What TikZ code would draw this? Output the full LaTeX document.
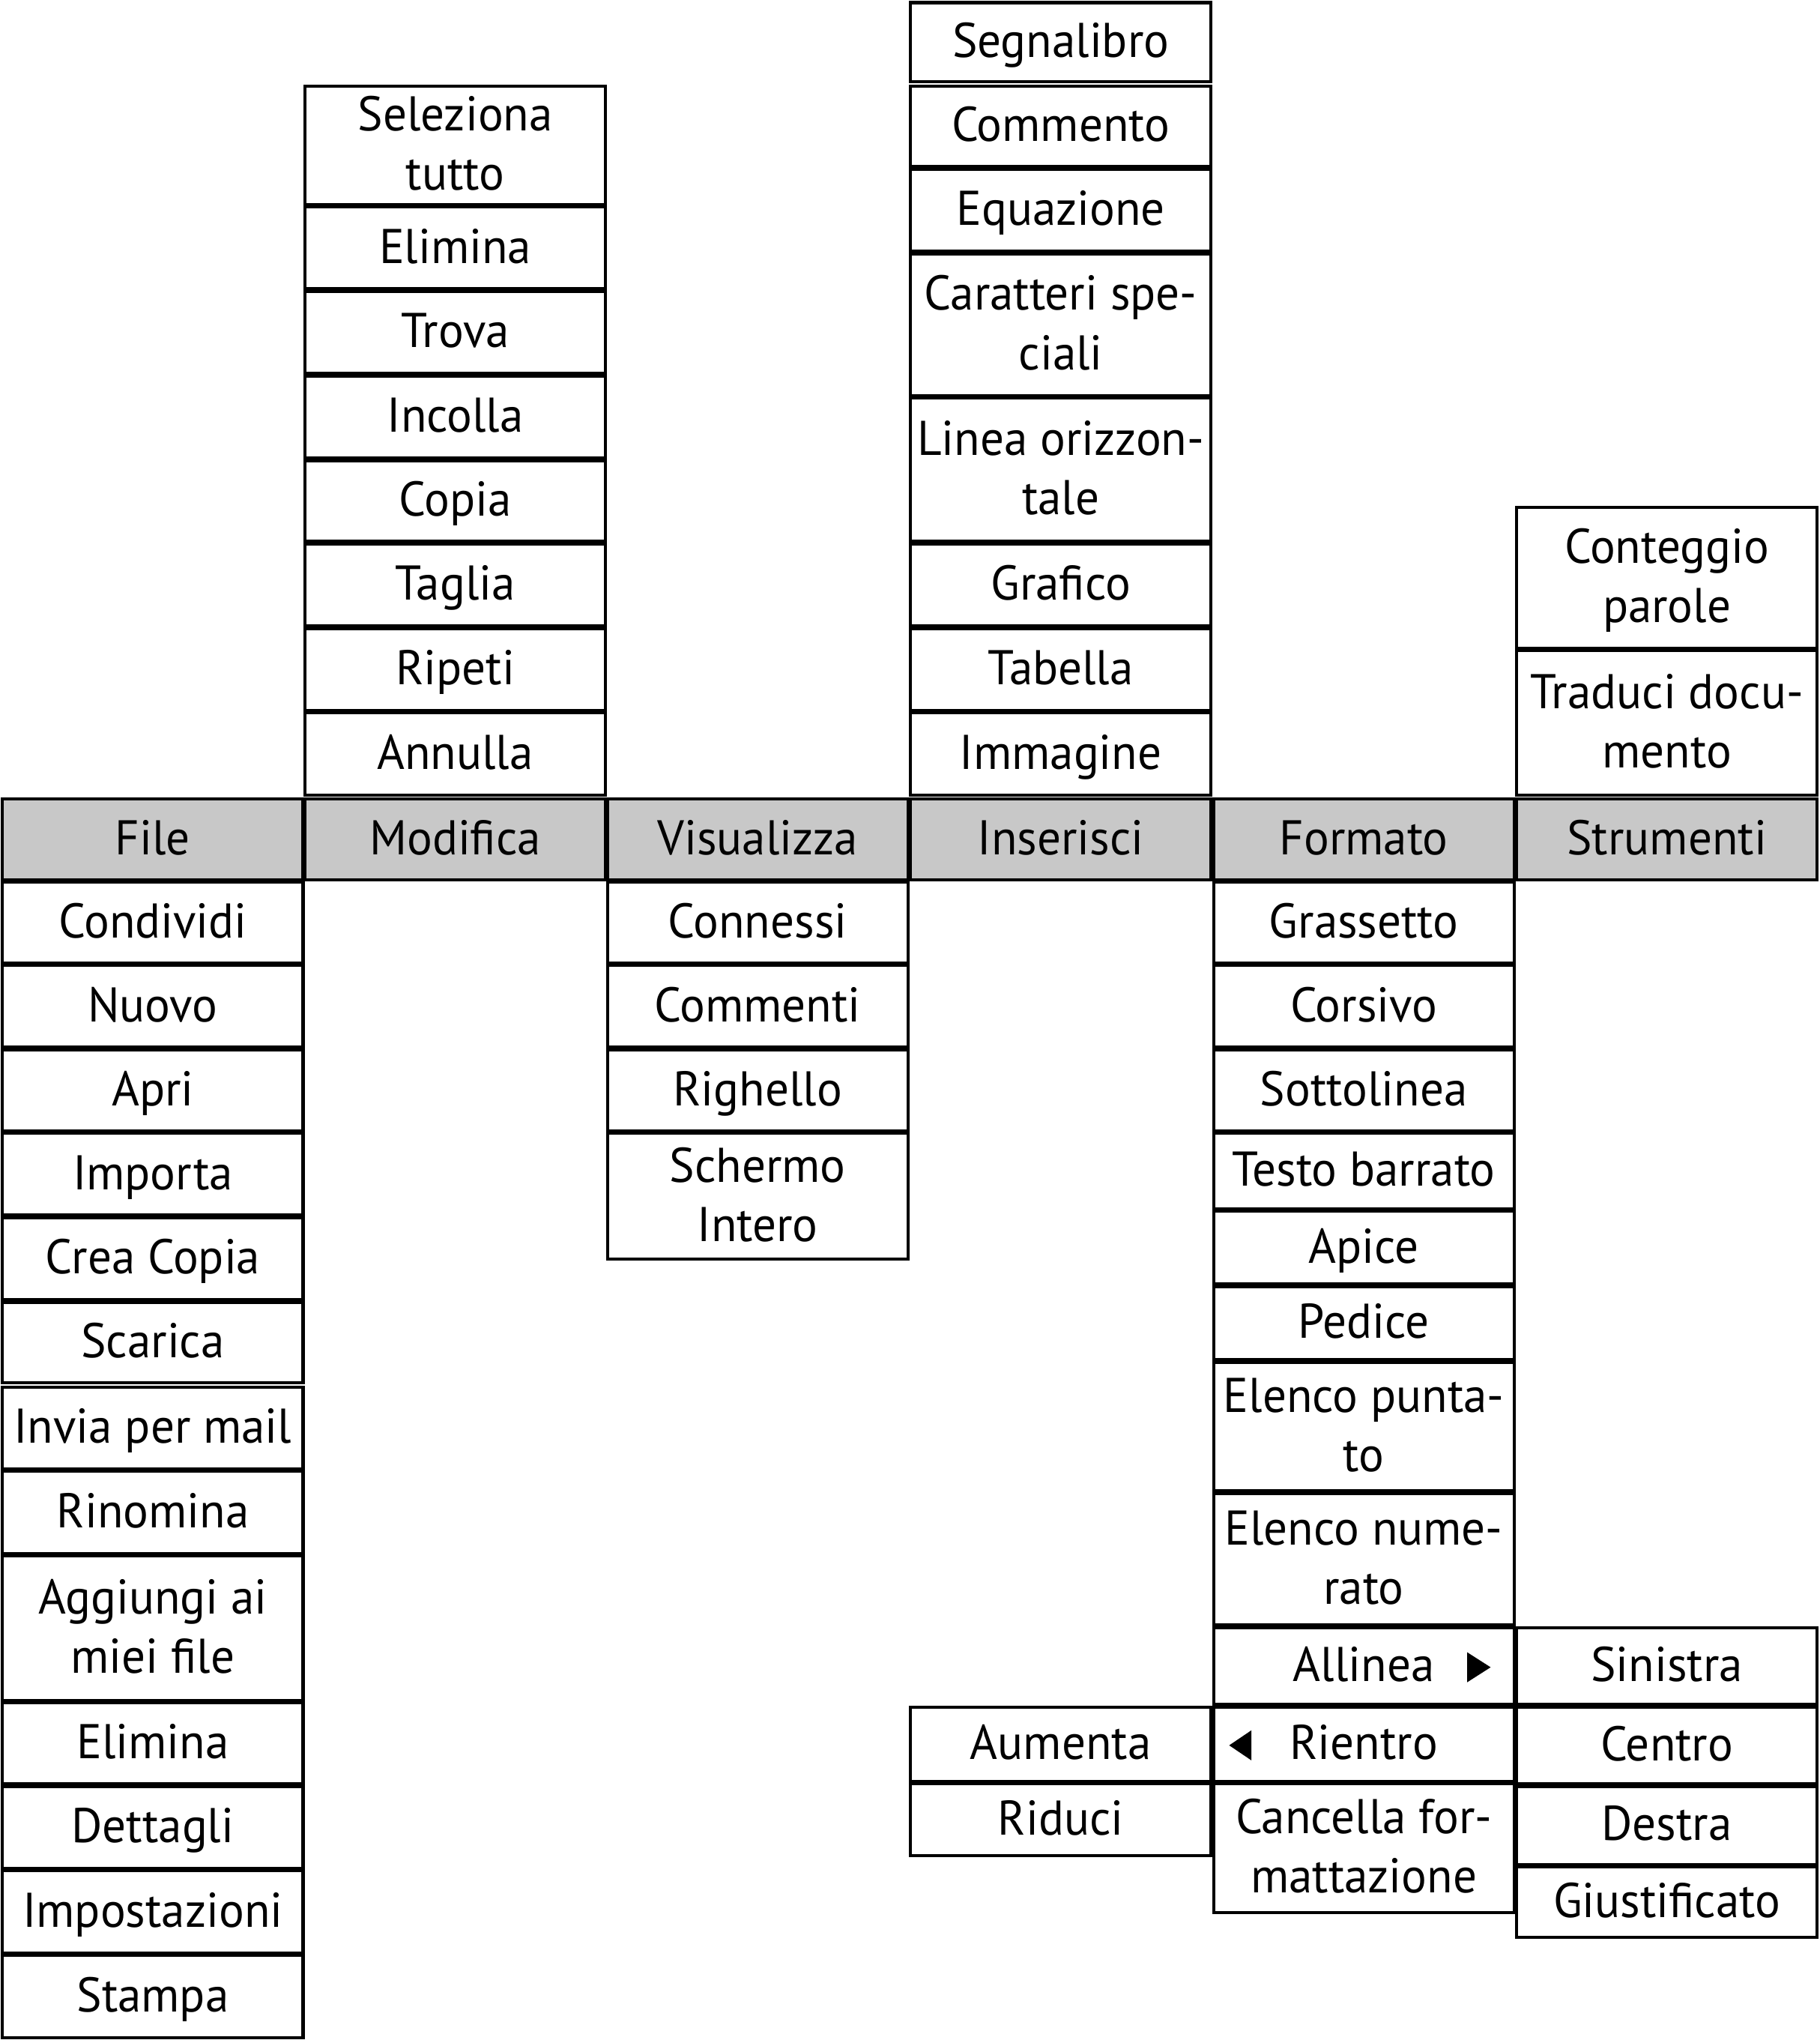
\documentclass[tikz,border=0pt]{standalone}
\usepackage{fontspec}
\setmainfont[FakeStretch=0.97]{PT Sans}
\def\u{0.017355cm}
\def\sr{\rule[-4pt]{0pt}{19.6pt}}
\definecolor{barfill}{HTML}{C8C8C8}
\tikzset{
  item/.style={draw=black, line width=1.15pt, inner sep=0pt, align=center,
    font=\fontsize{18.5}{22.5}\selectfont, fill=white},
  barbox/.style={item, fill=barfill},
}
% #1 extra style, #2 name, #3 left x, #4 top y, #5 bottom y, #6 text
\newcommand\bx[6][]{%
  \node[item,#1, minimum width=231*\u, minimum height={(#5-#4)*\u}]
    (#2) at ({#3+115.5},{(#4+#5)/2}) {\sr#6\sr};}
\begin{document}
\begin{tikzpicture}[x=0.017355cm, y=-0.017355cm]
\useasboundingbox (0,0) rectangle (1399,1568);
\def\La{2}\def\Lb{234.5}\def\Lc{467}\def\Ld{700}\def\Le{933}\def\Lf{1166}
% menu bar
\bx[barbox]{file}{\La}{614}{676}{File}
\bx[barbox]{modifica}{\Lb}{614}{676}{Modifica}
\bx[barbox]{visualizza}{\Lc}{614}{676}{Visualizza}
\bx[barbox]{inserisci}{\Ld}{614}{676}{Inserisci}
\bx[barbox]{formato}{\Le}{614}{676}{Formato}
\bx[barbox]{strumenti}{\Lf}{614}{676}{Strumenti}
% File
\bx{f1}{\La}{678}{740}{Condividi}
\bx{f2}{\La}{742}{805}{Nuovo}
\bx{f3}{\La}{807}{869}{Apri}
\bx{f4}{\La}{871}{934}{Importa}
\bx{f5}{\La}{936}{999}{Crea Copia}
\bx{f6}{\La}{1001}{1063}{Scarica}
\bx{f7}{\La}{1066}{1129}{Invia per mail}
\bx{f8}{\La}{1131}{1194}{Rinomina}
\bx{f9}{\La}{1196}{1307}{Aggiungi ai\\miei file}
\bx{f10}{\La}{1309}{1371}{Elimina}
\bx{f11}{\La}{1373}{1436}{Dettagli}
\bx{f12}{\La}{1438}{1501}{Impostazioni}
\bx{f13}{\La}{1503}{1566}{Stampa}
% Modifica
\bx{m1}{\Lb}{66}{157}{Seleziona\\tutto}
\bx{m2}{\Lb}{159}{222}{Elimina}
\bx{m3}{\Lb}{224}{287}{Trova}
\bx{m4}{\Lb}{289}{352}{Incolla}
\bx{m5}{\Lb}{354}{416}{Copia}
\bx{m6}{\Lb}{418}{481}{Taglia}
\bx{m7}{\Lb}{483}{546}{Ripeti}
\bx{m8}{\Lb}{548}{611}{Annulla}
% Visualizza
\bx{v1}{\Lc}{678}{740}{Connessi}
\bx{v2}{\Lc}{742}{805}{Commenti}
\bx{v3}{\Lc}{807}{869}{Righello}
\bx{v4}{\Lc}{871}{968}{Schermo\\Intero}
% Inserisci
\bx{i1}{\Ld}{2}{63}{Segnalibro}
\bx{i2}{\Ld}{66}{128}{Commento}
\bx{i3}{\Ld}{130}{193}{Equazione}
\bx{i4}{\Ld}{195}{304}{Caratteri spe-\\ciali}
\bx{i5}{\Ld}{306}{416}{Linea orizzon-\\tale}
\bx{i6}{\Ld}{418}{481}{Grafico}
\bx{i7}{\Ld}{483}{546}{Tabella}
\bx{i8}{\Ld}{548}{611}{Immagine}
\bx{au}{\Ld}{1312}{1369}{Aumenta}
\bx{ri}{\Ld}{1371}{1426}{Riduci}
% Formato
\bx{o1}{\Le}{678}{740}{Grassetto}
\bx{o2}{\Le}{742}{805}{Corsivo}
\bx{o3}{\Le}{807}{869}{Sottolinea}
\bx{o4}{\Le}{871}{929}{Testo barrato}
\bx{o5}{\Le}{931}{987}{Apice}
\bx{o6}{\Le}{989}{1045}{Pedice}
\bx{o7}{\Le}{1047}{1146}{Elenco punta-\\to}
\bx{o8}{\Le}{1148}{1249}{Elenco nume-\\rato}
\bx{o9}{\Le}{1251}{1310}{Allinea}
\bx{o10}{\Le}{1312}{1369}{Rientro}
\bx{o11}{\Le}{1371}{1470}{Cancella for-\\mattazione}
% Strumenti
\bx{s1}{\Lf}{390}{498}{Conteggio\\parole}
\bx{s2}{\Lf}{500}{611}{Traduci docu-\\mento}
\bx{s3}{\Lf}{1251}{1310}{Sinistra}
\bx{s4}{\Lf}{1312}{1371}{Centro}
\bx{s5}{\Lf}{1373}{1433}{Destra}
\bx{s6}{\Lf}{1435}{1489}{Giustificato}
% arrows
\fill (1128,1270) -- (1146,1281.5) -- (1128,1293) -- cycle;
\fill (962,1330) -- (945,1341.5) -- (962,1353) -- cycle;
\end{tikzpicture}
\end{document}
